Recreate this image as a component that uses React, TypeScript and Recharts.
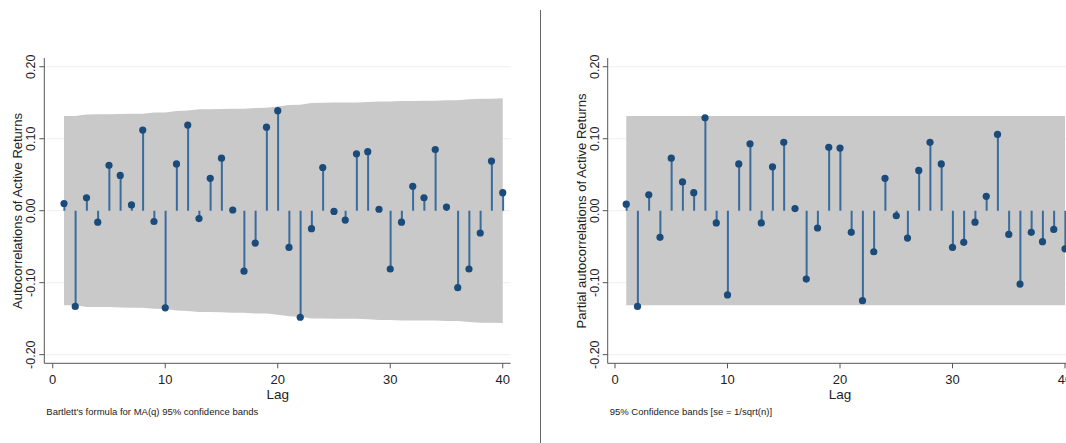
import React from "react";
import {
  Area,
  Bar,
  CartesianGrid,
  ComposedChart,
  Scatter,
  XAxis,
  YAxis,
} from "recharts";

const LAGS = [
  1, 2, 3, 4, 5, 6, 7, 8, 9, 10, 11, 12, 13, 14, 15, 16, 17, 18, 19, 20, 21,
  22, 23, 24, 25, 26, 27, 28, 29, 30, 31, 32, 33, 34, 35, 36, 37, 38, 39, 40,
];

const ACF_VALUES = [
  0.01, -0.133, 0.018, -0.016, 0.063, 0.049, 0.008, 0.112, -0.015, -0.135,
  0.065, 0.119, -0.011, 0.045, 0.073, 0.001, -0.084, -0.045, 0.116, 0.139,
  -0.051, -0.148, -0.025, 0.06, -0.001, -0.013, 0.079, 0.082, 0.002, -0.081,
  -0.016, 0.034, 0.018, 0.085, 0.005, -0.107, -0.081, -0.031, 0.069, 0.025,
];

// Bartlett band half-width per lag
const ACF_BAND = [
  0.1315, 0.1315, 0.1338, 0.1339, 0.1339, 0.1344, 0.1347, 0.1347, 0.1363,
  0.1364, 0.1386, 0.1392, 0.1409, 0.1409, 0.1412, 0.1418, 0.1418, 0.1427,
  0.1429, 0.1446, 0.1468, 0.1472, 0.1497, 0.1498, 0.1502, 0.1502, 0.1502,
  0.1509, 0.1517, 0.1517, 0.1524, 0.1525, 0.1526, 0.1526, 0.1534, 0.1534,
  0.1547, 0.1555, 0.1556, 0.1561,
];

const PACF_VALUES = [
  0.009, -0.133, 0.022, -0.037, 0.073, 0.04, 0.025, 0.129, -0.017, -0.117,
  0.065, 0.093, -0.017, 0.061, 0.095, 0.003, -0.095, -0.024, 0.088, 0.087,
  -0.03, -0.125, -0.057, 0.045, -0.007, -0.038, 0.056, 0.095, 0.065, -0.051,
  -0.044, -0.016, 0.02, 0.106, -0.033, -0.102, -0.03, -0.043, -0.026, -0.053,
];

const PACF_BAND = 0.1315;

const X_TICKS = [0, 10, 20, 30, 40];
const Y_TICKS = [-0.2, -0.1, 0, 0.1, 0.2];

const FONT = "'Liberation Sans', Arial, sans-serif";
const STEM = "#3a6b9b";
const DOT = "#1b4b7b";
const BAND = "#c9c9c9";
const AXIS = "#555";

type Row = { lag: number; value: number; lo: number; hi: number };

const acfRows: Row[] = LAGS.map((lag, i) => ({
  lag,
  value: ACF_VALUES[i],
  lo: -ACF_BAND[i],
  hi: ACF_BAND[i],
}));

const pacfRows: Row[] = LAGS.map((lag, i) => ({
  lag,
  value: PACF_VALUES[i],
  lo: -PACF_BAND,
  hi: PACF_BAND,
}));

const YTick = (props: any) => {
  const { x, y, payload } = props;
  return (
    <text
      x={x}
      y={y}
      transform={`rotate(-90, ${x}, ${y})`}
      textAnchor="middle"
      fontSize={12.5}
      fontFamily={FONT}
      fill="#222"
    >
      {payload.value.toFixed(2)}
    </text>
  );
};

const XTick = (props: any) => {
  const { x, y, payload } = props;
  return (
    <text
      x={x}
      y={y + 16}
      textAnchor="middle"
      fontSize={13}
      fontFamily={FONT}
      fill="#222"
    >
      {payload.value}
    </text>
  );
};

const Dot = (props: any) => {
  const { cx, cy } = props;
  return <circle cx={cx} cy={cy} r={3.6} fill={DOT} />;
};

const AX_W = 30;
const AX_H = 30;

interface PanelProps {
  rows: Row[];
  left: number;
  width: number;
  marginLeft: number;
  xMin: number;
  yTitle: string;
  note: string;
}

const Panel: React.FC<PanelProps> = ({
  rows,
  left,
  width,
  marginLeft,
  xMin,
  yTitle,
  note,
}) => {
  const plotW = (40.7 - xMin) * 11.25;
  const margin = {
    top: 58.1,
    bottom: 443 - 363.3 - AX_H,
    left: marginLeft - AX_W,
    right: width - marginLeft - plotW,
  };
  return (
    <div style={{ position: "absolute", left, top: 0, width, height: 443 }}>
      <ComposedChart width={width} height={443} data={rows} margin={margin}>
        <CartesianGrid
          vertical={false}
          stroke="#f0f0f0"
          horizontalValues={Y_TICKS}
        />
        <XAxis
          type="number"
          dataKey="lag"
          domain={[xMin, 40.7]}
          ticks={X_TICKS}
          height={AX_H}
          tickSize={5}
          tickMargin={0}
          stroke={AXIS}
          tick={<XTick />}
          allowDataOverflow
        />
        <YAxis
          type="number"
          domain={[-0.212, 0.212]}
          ticks={Y_TICKS}
          width={AX_W}
          tickSize={5}
          tickMargin={4}
          stroke={AXIS}
          tick={<YTick />}
          allowDataOverflow
        />
        <Area
          type="linear"
          dataKey={(d: Row) => [d.lo, d.hi]}
          fill={BAND}
          fillOpacity={1}
          stroke="none"
          isAnimationActive={false}
        />
        <Bar dataKey="value" barSize={2} fill={STEM} isAnimationActive={false} />
        <Scatter dataKey="value" shape={<Dot />} isAnimationActive={false} />
      </ComposedChart>
      <svg
        width={width}
        height={443}
        style={{ position: "absolute", left: 0, top: 0, pointerEvents: "none" }}
      >
        <text
          x={marginLeft - 22}
          y={211}
          transform={`rotate(-90, ${marginLeft - 22}, 211)`}
          textAnchor="middle"
          fontSize={13}
          fontFamily={FONT}
          fill="#222"
        >
          {yTitle}
        </text>
        <text
          x={marginLeft + (20 - xMin) * 11.25}
          y={399}
          textAnchor="middle"
          fontSize={13.5}
          fontFamily={FONT}
          fill="#222"
        >
          Lag
        </text>
        <text
          x={marginLeft + 2}
          y={415}
          fontSize={9.5}
          fontFamily={FONT}
          fill="#222"
        >
          {note}
        </text>
      </svg>
    </div>
  );
};

export default function App() {
  return (
    <div
      style={{
        position: "fixed",
        left: 0,
        top: 0,
        width: 1066,
        height: 443,
        overflow: "hidden",
        background: "#fff",
      }}
    >
      <Panel
        rows={acfRows}
        left={0}
        width={540}
        marginLeft={44.3}
        xMin={-0.75}
        yTitle="Autocorrelations of Active Returns"
        note="Bartlett's formula for MA(q) 95% confidence bands"
      />
      <Panel
        rows={pacfRows}
        left={560}
        width={520}
        marginLeft={47.7}
        xMin={-0.65}
        yTitle="Partial autocorrelations of Active Returns"
        note="95% Confidence bands [se = 1/sqrt(n)]"
      />
      <svg
        width={1066}
        height={443}
        style={{ position: "absolute", left: 0, top: 0, pointerEvents: "none" }}
      >
        <line x1={540.5} y1={10} x2={540.5} y2={443} stroke="#666" />
      </svg>
    </div>
  );
}
